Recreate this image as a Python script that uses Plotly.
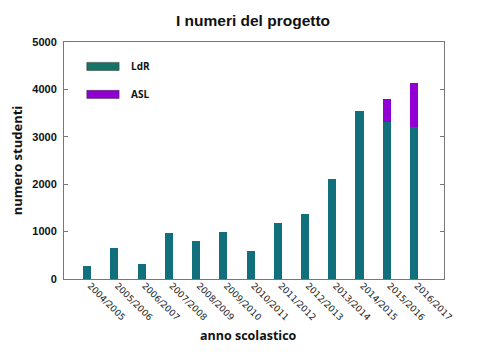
import plotly.graph_objects as go

years = ["2004/2005", "2005/2006", "2006/2007", "2007/2008", "2008/2009", "2009/2010",
         "2010/2011", "2011/2012", "2012/2013", "2013/2014", "2014/2015", "2015/2016", "2016/2017"]
ldr = [280, 650, 310, 970, 800, 1000, 600, 1180, 1380, 2100, 3540, 3320, 3200]
asl = [0, 0, 0, 0, 0, 0, 0, 0, 0, 0, 0, 480, 940]

teal = "#11707c"
purple = "#9000d2"
legend_teal = "#157466"

fig = go.Figure()
fig.add_trace(go.Bar(x=years, y=ldr, name="LdR", marker=dict(color=teal, line=dict(width=0)),
                     width=0.3, showlegend=False))
fig.add_trace(go.Bar(x=years, y=asl, name="ASL", marker=dict(color=purple, line=dict(width=0)),
                     width=0.3, showlegend=False))

# custom legend (wide swatches like the reference)
for i, (name, col) in enumerate([("LdR", legend_teal), ("ASL", purple)]):
    y0 = 0.897 - i * 0.118
    fig.add_shape(type="rect", xref="paper", yref="paper",
                  x0=0.06, x1=0.145, y0=y0 - 0.017, y1=y0 + 0.017,
                  fillcolor=col, line=dict(color="#333333", width=0.5))
    fig.add_annotation(xref="paper", yref="paper", x=0.172, y=y0, text=f"<b>{name}</b>",
                       showarrow=False, xanchor="left", yanchor="middle",
                       font=dict(family="Open Sans", size=10, color="#111111"))

# x-axis title (slightly left of the plot centre, as in the reference)
fig.add_annotation(xref="paper", yref="paper", x=0.485, y=-0.24, text="<b>anno scolastico</b>",
                   showarrow=False, xanchor="center", yanchor="middle",
                   font=dict(family="Open Sans", size=12.5, color="#111111"))

fig.update_layout(
    barmode="stack",
    width=492, height=350,
    margin=dict(l=56, r=56, t=34, b=79),
    paper_bgcolor="white", plot_bgcolor="white",
    title=dict(text="<b>I numeri del progetto</b>", x=0.498, xanchor="center", y=0.963, yanchor="middle",
               font=dict(family="Liberation Sans", size=15.5, color="#111111")),
    xaxis=dict(range=[-0.85, 13.1], tickangle=45, showgrid=False, ticks="", automargin=False,
               showline=True, linecolor="#777777", linewidth=1, mirror=True,
               ticklabelshift=3, ticklabelstandoff=-3,
               tickfont=dict(family="DejaVu Sans", size=9, color="#222222")),
    yaxis=dict(range=[0, 5000], dtick=1000, showgrid=False, ticks="inside", ticklen=4,
               tickcolor="#777777", showline=True, linecolor="#777777", linewidth=1, mirror="ticks",
               tickformat="d", zeroline=False, ticklabelstandoff=4, automargin=False,
               tickfont=dict(family="Liberation Sans", size=11, color="#111111"),
               title=dict(text="<b>numero studenti</b>", standoff=9,
                          font=dict(family="Open Sans", size=13, color="#111111"))),
)
fig.update_yaxes(tickprefix="<b>", ticksuffix="</b>")

fig.write_html("out.html")
